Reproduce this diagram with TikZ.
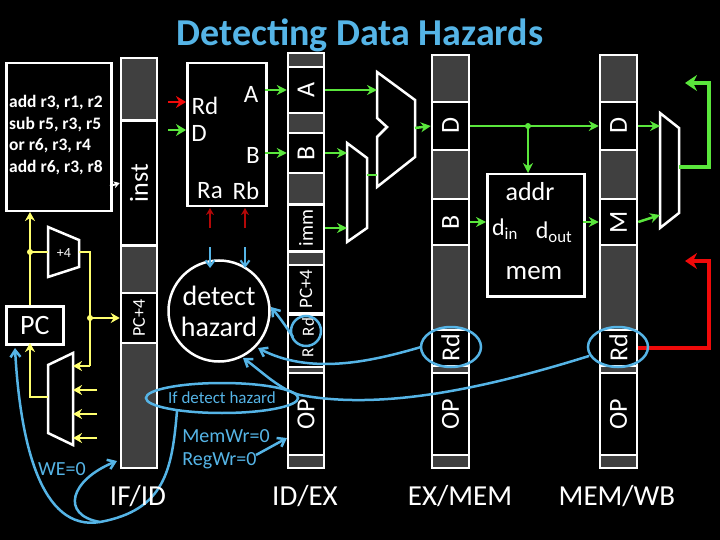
\documentclass[tikz,border=0pt]{standalone}
\usepackage{fontspec}
\setmainfont{Carlito}
\usetikzlibrary{arrows.meta,shapes.geometric}
\begin{document}
\begin{tikzpicture}[x=1pt,y=-1pt,line join=miter,
  reg/.style={draw=white,fill=black!75,line width=2.5},
  fld/.style={draw=white,fill=black,line width=2.5,rotate=90,inner sep=0,text=white,font=\fontsize{26}{26}\selectfont},
  wbox/.style={draw=white,fill=black,line width=2.5},
  gw/.style={draw=gr,line width=2.5,-{Stealth[length=10,width=10]}},
  gl/.style={draw=gr,line width=2.5},
  yw/.style={draw=yl,line width=2},
  ya/.style={draw=yl,line width=2,-{Stealth[length=9,width=10]}},
  bw/.style={draw=bl,line width=2.5},
  ba/.style={draw=bl,line width=2.5,-{Straight Barb[length=7,width=10]}},
  wt/.style={text=white,inner sep=0},
  mux/.style={draw=white,line width=2.5,fill=black}]
\definecolor{gr}{RGB}{90,230,60}
\definecolor{yl}{RGB}{255,255,110}
\definecolor{bl}{RGB}{85,180,230}
\definecolor{rd}{RGB}{240,10,10}
\fill[black] (0,0) rectangle (720,540);
\useasboundingbox (0,0) rectangle (720,540);
\node[text=bl,font=\fontsize{38}{38}\selectfont\bfseries] (title) at (360,35) {Detecting Data Hazards};
% instruction memory
\node[wbox,minimum width=105,minimum height=148,anchor=north west] (imem) at (5,62) {};
\node[wt,align=left,anchor=west,font=\fontsize{17.5}{21.5}\selectfont\bfseries] (prog) at (9,135) {add r3, r1, r2\\sub r5, r3, r5\\or r6, r3, r4\\add r6, r3, r8};
% IF/ID
\draw[reg] (121,58) rectangle (157,468);
\node[fld,minimum width=125,minimum height=36] (inst) at (139,183) {inst};
\node[fld,minimum width=50,minimum height=36,font=\fontsize{18}{18}\selectfont] (ifpc) at (139,318) {PC+4};
\coordinate (imo) at (110,186);
\draw[draw=white,line width=2,-{Stealth[length=6,width=7]}] (imo) -- (inst.north);
% ID/EX
\draw[reg] (288,53) rectangle (324,468);
\node[fld,minimum width=46,minimum height=36] (exA) at (306,90) {A};
\node[fld,minimum width=40,minimum height=36] (exB) at (306,153) {B};
\node[fld,minimum width=47,minimum height=36,font=\fontsize{20}{20}\selectfont] (exI) at (306,228) {imm};
\node[fld,minimum width=48,minimum height=36,font=\fontsize{19}{19}\selectfont] (exP) at (306,289) {PC+4};
\node[fld,minimum width=52,minimum height=36] (exRR) at (306,341) {};
\node[wt,rotate=90,font=\fontsize{17}{17}\selectfont] (exRd) at (308,327) {Rd};
\node[wt,rotate=90,font=\fontsize{17}{17}\selectfont] (exRt) at (308,353) {R};
\node[fld,minimum width=82,minimum height=36] (exOP) at (306,414) {OP};
% EX/MEM
\draw[reg] (432,55) rectangle (469,468);
\node[fld,minimum width=48,minimum height=37] (mD) at (450.5,126) {D};
\node[fld,minimum width=46,minimum height=37] (mB) at (450.5,222) {B};
\node[fld,minimum width=36,minimum height=37] (mRd) at (450.5,348) {Rd};
\node[fld,minimum width=82,minimum height=37] (mOP) at (450.5,414) {OP};
% MEM/WB
\draw[reg] (600,55) rectangle (637,468);
\node[fld,minimum width=48,minimum height=37] (wD) at (618.5,126) {D};
\node[fld,minimum width=46,minimum height=37] (wM) at (618.5,222) {M};
\node[fld,minimum width=36,minimum height=37] (wRd) at (618.5,348) {Rd};
\node[fld,minimum width=82,minimum height=37] (wOP) at (618.5,414) {OP};
% register file
\node[wbox,minimum width=79,minimum height=143,anchor=north west] (rf) at (186,62) {};
\node[wt,font=\fontsize{25}{25}\selectfont] (lrd) at (205,106) {Rd};
\node[wt,font=\fontsize{25}{25}\selectfont] (ld) at (199,133) {D};
\node[wt,font=\fontsize{25}{25}\selectfont] (la) at (251,94) {A};
\node[wt,font=\fontsize{25}{25}\selectfont] (lb) at (253,155) {B};
\node[wt,font=\fontsize{25}{25}\selectfont] (lra) at (210,191) {Ra};
\node[wt,font=\fontsize{25}{25}\selectfont] (lrb) at (246,191) {Rb};
\coordinate (rdin) at (168,102);
\coordinate (din) at (168,130);
\draw[draw=rd,line width=2.5,-{Stealth[length=10,width=12]}] (rdin) -- (186,102);
\draw[draw=gr,line width=2.5,-{Stealth[length=10,width=12]}] (din) -- (186,130);
\draw[gw] (265,90) -- (exA.north);
\draw[gw] (265,153) -- (exB.north);
% ALU and mux
\draw[mux] (377,72) -- (415,100) -- (415,157) -- (377,187) -- (377,137) -- (387,127) -- (377,118) -- cycle;
\draw[mux] (347,143) -- (367,158) -- (367,228) -- (347,242) -- cycle;
\draw[gw] (exA.south) -- (377,90);
\draw[gw] (exB.south) -- (347,153);
\draw[gw] (exI.south) -- (347,228);
\draw[gl] (367,175) -- (377,175);
\draw[gw] (415,128) -- (mD.north);
% data memory
\node[wbox,minimum width=97,minimum height=122,anchor=north west] (dm) at (486,173) {};
\node[wt,font=\fontsize{26}{26}\selectfont] (laddr) at (530,192) {addr};
\node[wt,font=\fontsize{24}{24}\selectfont] (ldin) at (505,229) {d$_{\mathrm{in}}$};
\node[wt,font=\fontsize{24}{24}\selectfont] (ldout) at (554,232) {d$_{\mathrm{out}}$};
\node[wt,font=\fontsize{27}{27}\selectfont] (lmem) at (534,273) {mem};
\draw[gw] (mD.south) -- (wD.north);
\fill[gr] (528,126) circle (3);
\draw[gw] (528,126) -- (528,173);
\draw[gw] (mB.south) -- (486,222);
\draw[gw] (583,222) -- (wM.north);
% WB mux
\draw[mux] (660,113) -- (679,128) -- (679,213) -- (660,228) -- cycle;
\draw[gw] (wD.south) -- (660,126);
\draw[gw] (wM.south) -- (660,215);
\coordinate (gback) at (685,83);
\draw[draw=gr,line width=4.5,-{Stealth[length=12,width=16]}] (679,167) -- (709,167) -- (709,83) -- (gback);
\coordinate (rback) at (685,261);
\draw[draw=rd,line width=4.5,-{Stealth[length=12,width=16]}] (wRd.south) -- (709,348) -- (709,261) -- (rback);
% +4 adder, PC, PC mux
\draw[mux] (48,227) -- (79,240) -- (79,267) -- (48,277) -- cycle;
\node[wt,font=\fontsize{14}{14}\selectfont] (plus4) at (64,253) {+4};
\node[wbox,minimum width=57,minimum height=38,anchor=north west,text=white,font=\fontsize{28}{28}\selectfont] (pc) at (5,305) {PC};
\draw[mux] (48,365) -- (73,353) -- (73,445) -- (48,433) -- cycle;
\draw[ya] (30,305) -- (30,212);
\fill[yl] (30,252) circle (3);
\draw[yw] (30,252) -- (48,252);
\draw[yw] (79,252) -- (90,252) -- (90,366);
\draw[ya] (90,366) -- (73,366);
\fill[yl] (90,318) circle (3);
\draw[ya] (90,318) -- (ifpc.north);
\draw[ya] (48,397) -- (30,397) -- (30,343);
\draw[ya] (97,390) -- (73,390);
\draw[ya] (97,414) -- (73,414);
\draw[ya] (97,438) -- (73,438);
% detect hazard
\node[draw=white,line width=2.5,circle,minimum size=101,text=white,align=center,font=\fontsize{28}{31}\selectfont,inner sep=0] (dh) at (219,311) {detect\\hazard};
\draw[draw=rd!75!black,line width=2,-{Stealth[length=7,width=8]}] (210,228) -- (210,208);
\draw[draw=rd!75!black,line width=2,-{Stealth[length=7,width=8]}] (245,228) -- (245,208);
\draw[draw=bl,line width=2,-{Straight Barb[length=6,width=9]}] (210,247) -- (210,268);
\draw[draw=bl,line width=2,-{Straight Barb[length=6,width=9]}] (245,247) -- (245,268);
% blue annotations
\node[draw=bl,line width=2.5,ellipse,minimum width=130,minimum height=30,inner sep=0,text=bl,font=\fontsize{17}{18}\selectfont] (ifdh) at (222,398) {If detect hazard};
\node[text=bl,align=left,font=\fontsize{20}{23}\selectfont,inner sep=0] (ctrl) at (226,449) {MemWr=0\\RegWr=0};
\node[text=bl,font=\fontsize{20}{20}\selectfont,inner sep=0] (we) at (62,469) {WE=0};
\draw[ba] (256,455) -- (287,438);
\draw[ba] (177,411) .. controls (172,470) and (165,510) .. (100,522) .. controls (40,532) and (20,440) .. (15,348);
\draw[ba] (100,522) .. controls (60,515) and (70,480) .. (117,461);
\draw[bw] (306,331) circle (15);
\draw[bw] (451,347) ellipse (30 and 20);
\draw[bw] (618,347) ellipse (30 and 20);
\draw[ba] (293,337) .. controls (285,325) and (280,318) .. (271,307);
\draw[ba] (421,347) .. controls (370,362) and (310,375) .. (258,348);
\draw[ba] (589,356) .. controls (480,390) and (380,410) .. (300,395) .. controls (280,390) and (260,370) .. (243,358);
% stage labels
\node[wt,font=\fontsize{29}{29}\selectfont] (s1) at (138,496) {IF/ID};
\node[wt,font=\fontsize{29}{29}\selectfont] (s2) at (305,496) {ID/EX};
\node[wt,font=\fontsize{29}{29}\selectfont] (s3) at (460,496) {EX/MEM};
\node[wt,font=\fontsize{29}{29}\selectfont] (s4) at (617,496) {MEM/WB};
\end{tikzpicture}
\end{document}
